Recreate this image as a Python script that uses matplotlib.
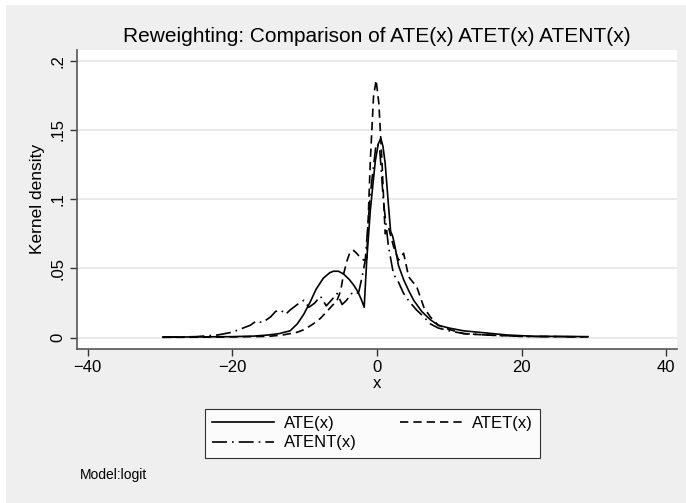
import matplotlib
matplotlib.use("Agg")
import matplotlib.pyplot as plt
from matplotlib.patches import Rectangle

plt.rcParams['font.family'] = ['Liberation Sans', 'DejaVu Sans']

# ---- data ----
ate_x = [-29.6, -25, -20, -17, -15, -13.5, -12, -11, -10.1, -9.2, -8.4, -7.4, -6.5, -6, -5.3,
         -4.6, -3.8, -3.2, -2.6, -2.1, -1.75, -1.4, -0.9, -0.5, -0.2, 0.2, 0.55, 0.85, 1.15,
         1.6, 1.9, 2.2, 2.5, 3.0, 3.7, 4.4, 5.1, 6.2, 7.4, 8.5, 10, 12, 14, 16, 18, 20, 22, 25, 29.2]
ate_y = [0.0005, 0.0006, 0.0008, 0.0012, 0.002, 0.003, 0.005, 0.010, 0.017, 0.026, 0.035, 0.043,
         0.047, 0.048, 0.048, 0.046, 0.042, 0.038, 0.033, 0.027, 0.022, 0.056, 0.092, 0.113, 0.128,
         0.140, 0.144, 0.138, 0.126, 0.096, 0.077, 0.073, 0.066, 0.052, 0.042, 0.034, 0.027, 0.019,
         0.013, 0.009, 0.007, 0.005, 0.004, 0.003, 0.002, 0.0015, 0.001, 0.001, 0.0008]

atet_x = [-29.6, -25, -20, -15, -13, -11, -10, -8.8, -7.8, -6.9, -6.2, -5.5, -5.0, -4.6, -4.1,
          -3.7, -3.2, -2.8, -2.3, -1.8, -1.4, -0.9, -0.46, -0.1, 0.28, 0.7, 1.15, 1.6, 2.3, 3.0,
          3.7, 4.4, 5.0, 5.5, 6.5, 7.4, 8.5, 10, 12, 15, 20, 25, 29.2]
atet_y = [0.0003, 0.0004, 0.0006, 0.001, 0.002, 0.004, 0.006, 0.010, 0.014, 0.019, 0.023, 0.027,
          0.034, 0.046, 0.056, 0.062, 0.063, 0.061, 0.058, 0.056, 0.057, 0.128, 0.174, 0.186,
          0.169, 0.128, 0.075, 0.080, 0.066, 0.056, 0.061, 0.044, 0.040, 0.037, 0.022, 0.015,
          0.009, 0.006, 0.003, 0.002, 0.001, 0.0008, 0.0006]

atent_x = [-29.6, -25, -22, -20, -19, -17.5, -16.7, -15.8, -14.7, -14, -13.3, -12.6, -12, -11,
           -10.1, -9.4, -8.6, -7.8, -7, -6.3, -5.5, -4.8, -4.2, -3.5, -3.0, -2.5, -2.0, -1.6,
           -0.9, -0.1, 0.37, 0.9, 1.6, 2.3, 3.0, 3.7, 4.5, 5.5, 6.5, 7.4, 8.5, 10, 12, 15, 20, 25, 29.2]
atent_y = [0.0004, 0.0008, 0.002, 0.004, 0.006, 0.009, 0.012, 0.011, 0.015, 0.019, 0.020, 0.017,
           0.020, 0.024, 0.027, 0.022, 0.025, 0.030, 0.023, 0.027, 0.032, 0.024, 0.027, 0.032,
           0.031, 0.033, 0.045, 0.056, 0.104, 0.140, 0.138, 0.099, 0.066, 0.046, 0.040, 0.032,
           0.026, 0.020, 0.015, 0.010, 0.007, 0.005, 0.003, 0.002, 0.001, 0.0008, 0.0006]

series_labels = ["ATE(x)", "ATET(x)", "ATENT(x)"]
x_ticks = [-40, -20, 0, 20, 40]
x_ticklabels = ["\u221240", "\u221220", "0", "20", "40"]
y_ticks = [0, 0.05, 0.1, 0.15, 0.2]
y_ticklabels = ["0", ".05", ".1", ".15", ".2"]
title = "Reweighting: Comparison of ATE(x) ATET(x) ATENT(x)"
note = "Model:logit"

# ---- figure ----
W, H = 686, 503
fig = plt.figure(figsize=(W / 100, H / 100), dpi=100, facecolor="white")
bg = "#efefef"
fig.patches.append(Rectangle((6 / W, 0), 1 - 6 / W, 1 - 5 / H, transform=fig.transFigure,
                             facecolor=bg, edgecolor="none", zorder=-10))

ax = fig.add_axes([76.7 / W, 1 - 348.7 / H, (677 - 76.7) / W, (348.7 - 50) / H])
ax.set_facecolor("white")

lw = 1.2
h_ate, = ax.plot(ate_x, ate_y, color="black", lw=lw, linestyle="-", label=series_labels[0])
h_atet, = ax.plot(atet_x, atet_y, color="black", lw=lw, linestyle=(0, (5, 3)), label=series_labels[1])
h_atent, = ax.plot(atent_x, atent_y, color="black", lw=lw, linestyle=(0, (9, 3, 1, 3)),
                   label=series_labels[2])

ax.set_xlim(-41.5, 41.5)
ax.set_ylim(-0.0079, 0.2077)
ax.set_xticks(x_ticks)
ax.set_xticklabels(x_ticklabels, fontsize=12)
ax.set_yticks(y_ticks)
ax.set_yticklabels(y_ticklabels, fontsize=12, rotation=90, va="center")
ax.grid(axis="y", color="#e8e8e8", lw=1.3)
ax.set_axisbelow(True)
for s in ["top", "right"]:
    ax.spines[s].set_visible(False)
for s in ["left", "bottom"]:
    ax.spines[s].set_color("#555555")
    ax.spines[s].set_linewidth(1.2)
ax.tick_params(direction="out", length=5, width=1, color="#333333", pad=3)

ax.set_xlabel("x", fontsize=12, labelpad=1)
ax.set_ylabel("Kernel density", fontsize=12.5, labelpad=4)
fig.text(377 / W, 1 - 37 / H, title, ha="center", va="center", fontsize=15)

# column-major fill: col1 = ATE, ATENT ; col2 = ATET
leg = fig.legend([h_ate, h_atent, h_atet],
                 [series_labels[0], series_labels[2], series_labels[1]],
                 loc="center", bbox_to_anchor=(372.7 / W, 1 - 433.3 / H), ncol=2,
                 fontsize=12, frameon=True, fancybox=False, edgecolor="black",
                 handlelength=3.7, columnspacing=2.6, handletextpad=0.6, borderpad=0.45,
                 labelspacing=0.25)
leg.get_frame().set_linewidth(0.8)
leg.get_frame().set_facecolor("white")

fig.text(80 / W, 1 - 475 / H, note, ha="left", va="center", fontsize=10)

fig.savefig("out.png", dpi=100, facecolor=fig.get_facecolor())
